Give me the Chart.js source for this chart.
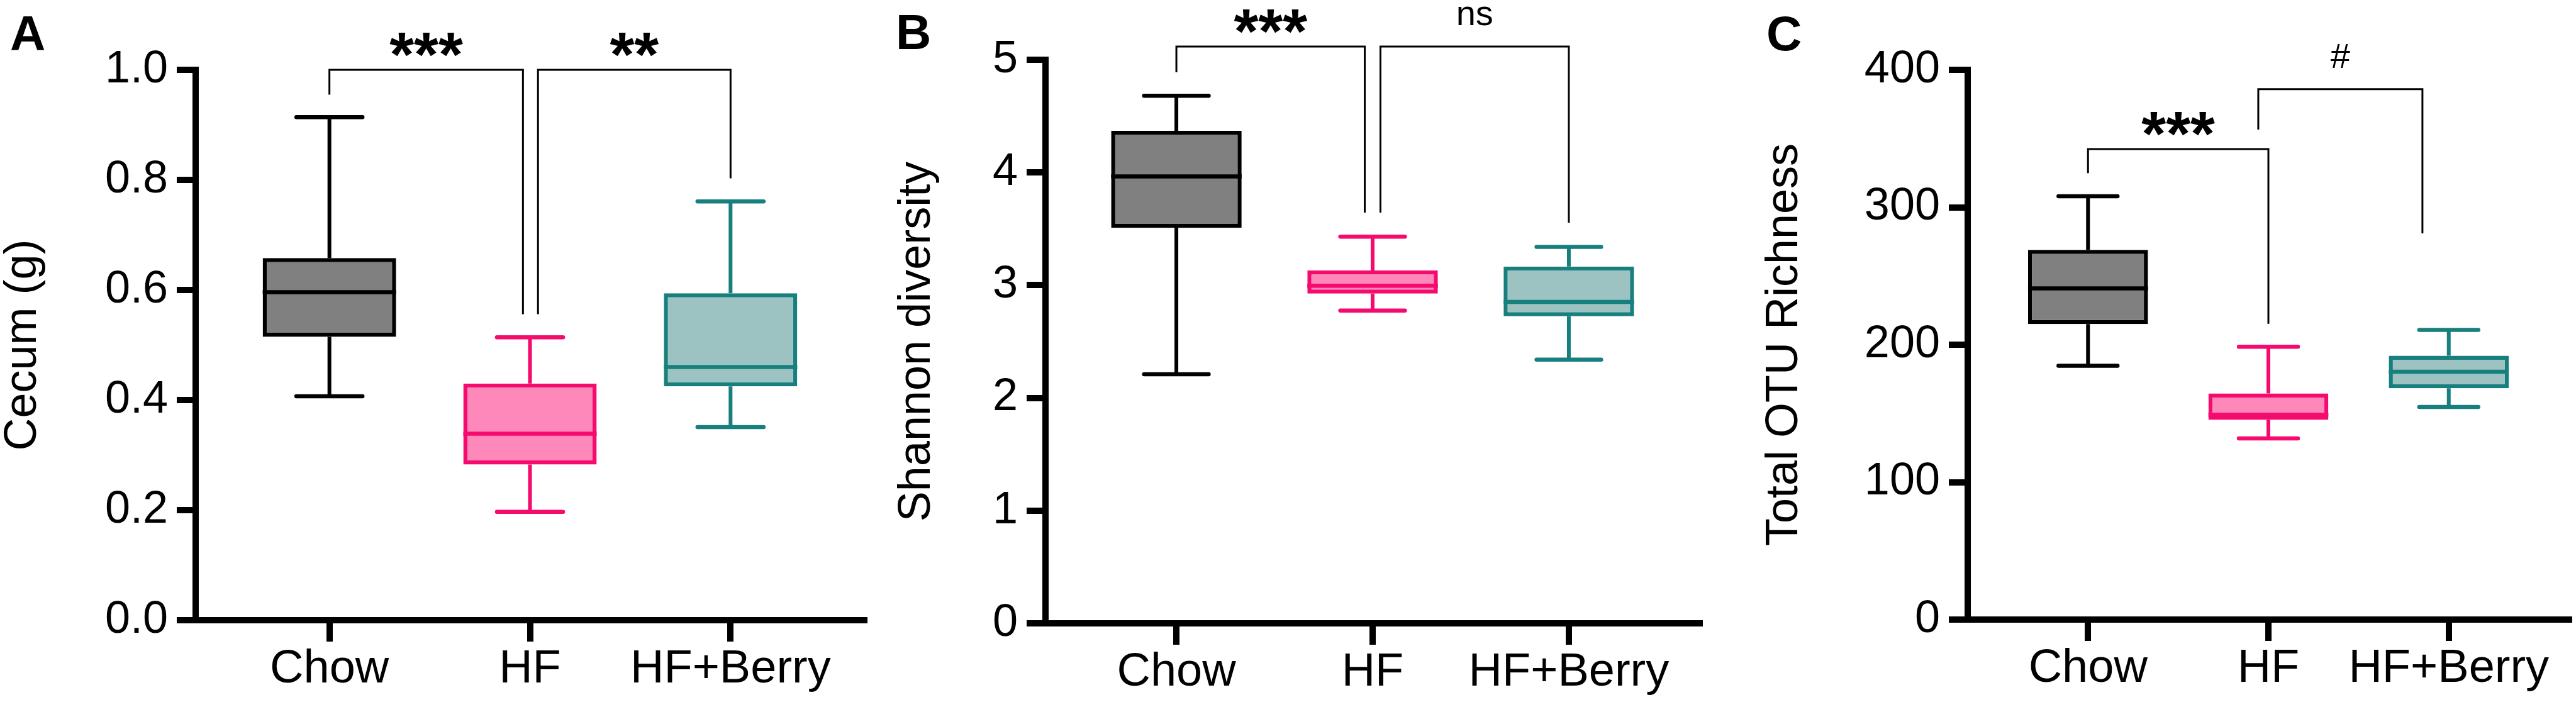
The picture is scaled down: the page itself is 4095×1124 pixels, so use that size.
<!DOCTYPE html>
<html>
<head>
<meta charset="utf-8">
<script src="https://cdn.jsdelivr.net/npm/chart.js@4.4.1/dist/chart.umd.min.js"></script>
<style>
  html, body { margin: 0; padding: 0; background: #fff; }
  #wrap { position: relative; width: 4095px; height: 1124px; overflow: hidden; background: #fff; }
  canvas { position: absolute; top: 0; }
</style>
</head>
<body>
<div id="wrap">
  <canvas id="chartA" width="1380" height="1124" style="left:0px"></canvas>
  <canvas id="chartB" width="1380" height="1124" style="left:1380px"></canvas>
  <canvas id="chartC" width="1335" height="1124" style="left:2760px"></canvas>
</div>
<script>
const groups = ['Chow', 'HF', 'HF+Berry'];

// A - cecum weight (g)
const cecumMin = [0.407, 0.197, 0.351];
const cecumQ1  = [0.515, 0.283, 0.425];
const cecumMed = [0.596, 0.339, 0.460];
const cecumQ3  = [0.658, 0.430, 0.594];
const cecumMax = [0.914, 0.514, 0.761];

// B - Shannon diversity
const shannonMin = [2.21, 2.775, 2.34];
const shannonQ1  = [3.51, 2.925, 2.725];
const shannonMed = [3.965, 2.995, 2.852];
const shannonQ3  = [4.37, 3.13, 3.165];
const shannonMax = [4.68, 3.43, 3.34];

// C - total OTU richness
const otuMin = [184.7, 131.8, 154.7];
const otuQ1  = [215, 145.3, 168.3];
const otuMed = [241, 149, 180.3];
const otuQ3  = [269, 164.5, 192];
const otuMax = [308, 198.5, 210.7];

// y tick labels
const cecumTicks = ['0.0', '0.2', '0.4', '0.6', '0.8', '1.0'];
const shannonTicks = ['0', '1', '2', '3', '4', '5'];
const otuTicks = ['0', '100', '200', '300', '400'];

// significance brackets (group index, leg shift in groups, heights in data units)
const cecumBrackets = [
  { from: 0, to: 1, shiftFrom: 0, shiftTo: -0.035, y: 1.0, yFrom: 0.955, yTo: 0.556, text: '***' },
  { from: 1, to: 2, shiftFrom: 0.04, shiftTo: 0, y: 1.0, yFrom: 0.556, yTo: 0.803, text: '**' }
];
const shannonBrackets = [
  { from: 0, to: 1, shiftFrom: 0, shiftTo: -0.04, y: 5.117, yFrom: 4.89, yTo: 3.644, text: '***' },
  { from: 1, to: 2, shiftFrom: 0.04, shiftTo: 0, y: 5.117, yFrom: 3.644, yTo: 3.555, text: 'ns' }
];
const otuBrackets = [
  { from: 0, to: 1, shiftFrom: 0, shiftTo: 0, y: 342.3, yFrom: 324.8, yTo: 215.2, text: '***' },
  { from: 1, to: 2, shiftFrom: -0.056, shiftTo: -0.146, y: 385.9, yFrom: 356.5, yTo: 281, text: '#' }
];

const boxFill = ['#808080', '#FF88BA', '#9CC2C1'];
const boxLine = ['#000000', '#F50A6E', '#17807E'];

const FONT = '"Liberation Sans", Arial, Helvetica, sans-serif';
Chart.defaults.font.family = FONT;
Chart.defaults.color = '#000';

// whiskers, caps, medians and brackets, placed through the chart scales
function boxExtras(mins, meds, maxs, brackets) {
  return {
    id: 'boxExtras',
    afterDatasetsDraw(chart) {
      const ctx = chart.ctx;
      const x = chart.scales.x, y = chart.scales.y;
      const step = x.getPixelForValue(1) - x.getPixelForValue(0);
      const bars = chart.getDatasetMeta(0).data;
      ctx.save();
      bars.forEach((bar, i) => {
        const cx = bar.x;
        const top = Math.min(bar.y, bar.base), bottom = Math.max(bar.y, bar.base);
        ctx.strokeStyle = boxLine[i];
        // whiskers
        ctx.lineWidth = 6;
        ctx.lineCap = 'butt';
        ctx.beginPath();
        ctx.moveTo(cx, top);
        ctx.lineTo(cx, y.getPixelForValue(maxs[i]));
        ctx.moveTo(cx, bottom);
        ctx.lineTo(cx, y.getPixelForValue(mins[i]));
        ctx.stroke();
        // caps
        const half = step * 0.175 - 3.25;
        ctx.lineWidth = 6.5;
        ctx.lineCap = 'round';
        ctx.beginPath();
        [maxs[i], mins[i]].forEach(v => {
          const py = y.getPixelForValue(v);
          ctx.moveTo(cx - half, py);
          ctx.lineTo(cx + half, py);
        });
        ctx.stroke();
        // median
        ctx.lineCap = 'butt';
        ctx.beginPath();
        const pm = y.getPixelForValue(meds[i]);
        ctx.moveTo(cx - bar.width / 2, pm);
        ctx.lineTo(cx + bar.width / 2, pm);
        ctx.stroke();
      });
      // brackets
      ctx.strokeStyle = '#000';
      ctx.fillStyle = '#000';
      ctx.lineWidth = 3;
      ctx.lineCap = 'butt';
      ctx.lineJoin = 'miter';
      brackets.forEach(b => {
        const xa = x.getPixelForValue(b.from + b.shiftFrom);
        const xb = x.getPixelForValue(b.to + b.shiftTo);
        const py = y.getPixelForValue(b.y);
        ctx.beginPath();
        ctx.moveTo(xa, y.getPixelForValue(b.yFrom));
        ctx.lineTo(xa, py);
        ctx.lineTo(xb, py);
        ctx.lineTo(xb, y.getPixelForValue(b.yTo));
        ctx.stroke();
        const stars = b.text.indexOf('*') >= 0;
        ctx.font = stars ? 'bold 100px ' + FONT : '56px ' + FONT;
        ctx.textAlign = 'center';
        ctx.textBaseline = 'alphabetic';
        ctx.fillText(b.text, (xa + xb) / 2, stars ? py + 10 : py - 34);
      });
      ctx.restore();
    }
  };
}

function makePanel(id, letter, yTitle, q1, q3, mins, meds, maxs, yMax, yStep, tickLabels, brackets, lay) {
  new Chart(document.getElementById(id), {
    type: 'bar',
    data: {
      datasets: [{
        data: groups.map((g, i) => ({ x: i, y: [q1[i], q3[i]] })),
        backgroundColor: boxFill,
        borderColor: boxLine,
        borderWidth: 6.5,
        borderSkipped: false,
        categoryPercentage: 1,
        barPercentage: 0.665
      }]
    },
    options: {
      responsive: false,
      animation: false,
      devicePixelRatio: 1,
      layout: { padding: { left: lay.left, right: lay.right, top: 0, bottom: 0 } },
      plugins: {
        legend: { display: false },
        tooltip: { enabled: false },
        title: {
          display: true,
          text: letter,
          align: 'start',
          color: '#000',
          font: { size: 78, weight: 'bold', lineHeight: 1 },
          padding: { top: lay.letterTop, bottom: lay.letterBottom }
        }
      },
      scales: {
        x: {
          type: 'linear',
          offset: false,
          min: -0.667,
          max: 2.667,
          afterBuildTicks: axis => { axis.ticks = groups.map((g, i) => ({ value: i })); },
          afterFit: s => { s.height = lay.xHeight; },
          ticks: {
            callback: v => groups[v],
            autoSkip: false,
            maxRotation: 0,
            padding: 0,
            color: '#000',
            font: { size: 74 }
          },
          grid: { offset: false, drawOnChartArea: false, drawTicks: true, tickLength: 34, tickWidth: 10, tickColor: '#000', lineWidth: 10, color: '#000' },
          border: { display: true, width: 10, color: '#000' }
        },
        y: {
          min: 0,
          max: yMax,
          afterFit: s => { s.width = lay.yWidth; },
          ticks: {
            stepSize: yStep,
            callback: (v, i) => tickLabels[i],
            padding: 14,
            color: '#000',
            font: { size: 72 }
          },
          title: {
            display: true,
            text: yTitle,
            color: '#000',
            font: { size: 72, lineHeight: 0.5 },
            padding: { top: lay.titlePad, bottom: 0 }
          },
          grid: { drawOnChartArea: false, drawTicks: true, tickLength: 30, tickWidth: 10, tickColor: '#000', lineWidth: 10, color: '#000' },
          border: { display: true, width: 10, color: '#000' }
        }
      }
    },
    plugins: [boxExtras(mins, meds, maxs, brackets)]
  });
}

makePanel('chartA', 'A', 'Cecum (g)', cecumQ1, cecumQ3, cecumMin, cecumMed, cecumMax,
  1.0, 0.2, cecumTicks, cecumBrackets,
  { left: 16, right: 6, letterTop: 19, letterBottom: 14, xHeight: 138, yWidth: 295, titlePad: 3 });

makePanel('chartB', 'B', 'Shannon diversity', shannonQ1, shannonQ3, shannonMin, shannonMed, shannonMax,
  5, 1, shannonTicks, shannonBrackets,
  { left: 44, right: 58, letterTop: 17, letterBottom: 0, xHeight: 133, yWidth: 238, titlePad: 16 });

makePanel('chartC', 'C', 'Total OTU Richness', otuQ1, otuQ3, otuMin, otuMed, otuMax,
  400, 100, otuTicks, otuBrackets,
  { left: 48, right: 11, letterTop: 19, letterBottom: 14, xHeight: 139, yWidth: 320, titlePad: 11 });
</script>
</body>
</html>
